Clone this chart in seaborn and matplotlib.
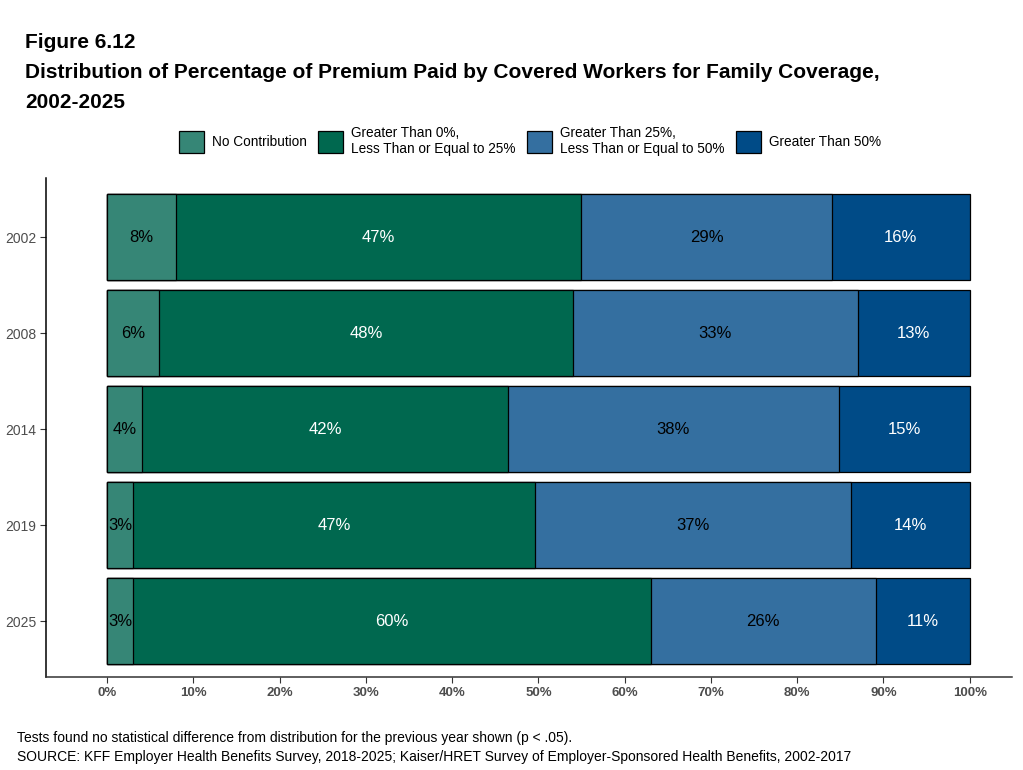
import matplotlib
matplotlib.use("Agg")
from matplotlib import pyplot as plt
from matplotlib.patches import Patch
import seaborn as sns
import numpy as np
import pandas as pd

years = ["2002", "2008", "2014", "2019", "2025"]
categories = ["No Contribution",
              "Greater Than 0%,\nLess Than or Equal to 25%",
              "Greater Than 25%,\nLess Than or Equal to 50%",
              "Greater Than 50%"]
no_contrib = [8.0, 6.0, 4.1, 3.0, 3.0]
gt0_le25 = [47.0, 48.0, 42.4, 46.6, 60.0]
gt25_le50 = [29.0, 33.0, 38.3, 36.6, 26.1]
gt50 = [16.0, 13.0, 15.2, 13.8, 10.9]
ticks = [0, 10, 20, 30, 40, 50, 60, 70, 80, 90, 100]

colors = ["#368676", "#00684F", "#346FA0", "#004B87"]
text_colors = ["black", "white", "black", "white"]

sns.set_style("white")
plt.rcParams['font.family'] = ['Liberation Sans', 'DejaVu Sans']
plt.rcParams['text.color'] = 'black'

series = [no_contrib, gt0_le25, gt25_le50, gt50]
cum = np.cumsum(np.array(series), axis=0)
df = pd.DataFrame({"year": years})
for i in range(4):
    df["cum%d" % i] = cum[i]

fig = plt.figure(figsize=(10.23, 7.7), dpi=100)
ax = fig.add_axes([46 / 1023, 1 - 677 / 770, (1012 - 46) / 1023, (677 - 178) / 770])

# stacked bars: draw cumulative totals from the widest down
for i in range(3, -1, -1):
    sns.barplot(data=df, x="cum%d" % i, y="year", orient="h", color=colors[i],
                saturation=1, width=0.9, edgecolor="black", linewidth=0.9, ax=ax)

for i in range(4):
    left = cum[i] - np.array(series[i])
    for j, y in enumerate(years):
        v = series[i][j]
        ax.text(left[j] + v / 2, j, "%d%%" % round(v), ha="center", va="center",
                color=text_colors[i], fontsize=12)

ax.set_xlim(-7.07, 104.9)
ax.set_ylim(4.583, -0.615)
ax.set_xticks(ticks)
ax.set_xticklabels(["%d%%" % t for t in ticks], fontweight="bold", color="#4d4d4d", fontsize=9.5)
ax.tick_params(axis="y", labelcolor="#4d4d4d", labelsize=10)
ax.tick_params(axis="both", length=4, width=0.8, color="#333333", direction="out", pad=3)
ax.tick_params(left=True, bottom=True)
ax.set_xlabel("")
ax.set_ylabel("")
sns.despine(ax=ax)
ax.spines["left"].set_color("black")
ax.spines["bottom"].set_color("#333333")
for s in ["left", "bottom"]:
    ax.spines[s].set_linewidth(1.1)

fig.text(25 / 1023, 1 - 43 / 770, "Figure 6.12", fontsize=15, fontweight="bold", va="center")
fig.text(25 / 1023, 1 - 73 / 770,
         "Distribution of Percentage of Premium Paid by Covered Workers for Family Coverage,",
         fontsize=15, fontweight="bold", va="center")
fig.text(25 / 1023, 1 - 103 / 770, "2002-2025", fontsize=15, fontweight="bold", va="center")

handles = [Patch(facecolor=c, edgecolor="black", linewidth=0.9) for c in colors]
fig.legend(handles, categories, loc="center", bbox_to_anchor=(530 / 1023, 1 - 141 / 770),
           ncol=4, frameon=False, fontsize=9.8, handlelength=1.85, handleheight=2.05,
           handletextpad=0.6, columnspacing=0.8)

fig.text(17 / 1023, 1 - 738 / 770,
         "Tests found no statistical difference from distribution for the previous year shown (p < .05).",
         fontsize=10, va="center")
fig.text(17 / 1023, 1 - 757 / 770,
         "SOURCE: KFF Employer Health Benefits Survey, 2018-2025; Kaiser/HRET Survey of Employer-Sponsored Health Benefits, 2002-2017",
         fontsize=10, va="center")

fig.savefig("out.png", dpi=100)
